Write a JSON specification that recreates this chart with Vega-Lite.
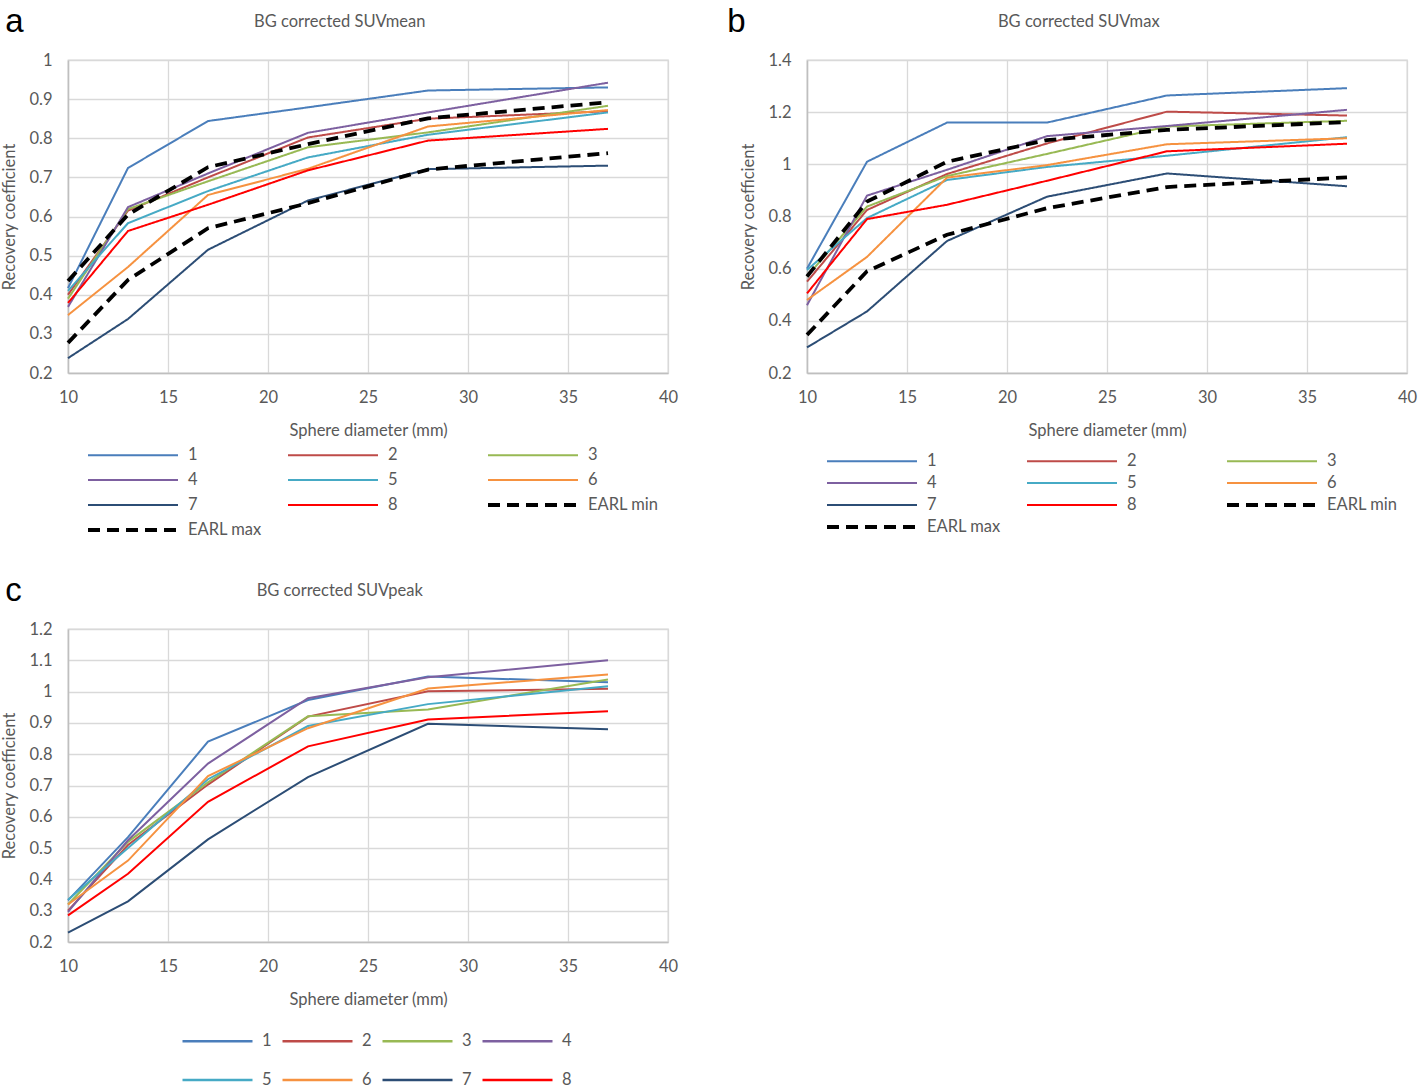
{
  "$schema": "https://vega.github.io/schema/vega-lite/v6.json",
  "background": "white",
  "padding": {"left": 1, "top": 5, "right": 0, "bottom": 0},
  "config": {
    "font": "Lato",
    "view": {"stroke": "#D9D9D9", "strokeWidth": 1.3},
    "axis": {
      "gridColor": "#D9D9D9", "gridWidth": 1.3, "domainColor": "#BFBFBF", "domainWidth": 1.5,
      "ticks": false, "labelFontSize": 16.5, "labelColor": "#595959", "titleFontSize": 16.5,
      "titleColor": "#595959", "titleFontWeight": "normal", "labelFont": "Lato", "titleFont": "Lato"
    },
    "axisX": {"labelPadding": 16, "titlePadding": 17, "labelFlush": false},
    "axisY": {"labelPadding": 16, "titlePadding": 11},
    "title": {"font": "Lato", "fontWeight": "normal"},
    "line": {"strokeCap": "butt", "strokeJoin": "miter"}
  },
  "datasets": {
    "a": [
      {"s": "1", "d": 10, "rc": 0.417}, {"s": "1", "d": 13, "rc": 0.724}, {"s": "1", "d": 17, "rc": 0.844}, {"s": "1", "d": 22, "rc": 0.879}, {"s": "1", "d": 28, "rc": 0.922}, {"s": "1", "d": 37, "rc": 0.93},
      {"s": "2", "d": 10, "rc": 0.40}, {"s": "2", "d": 13, "rc": 0.615}, {"s": "2", "d": 17, "rc": 0.70}, {"s": "2", "d": 22, "rc": 0.802}, {"s": "2", "d": 28, "rc": 0.85}, {"s": "2", "d": 37, "rc": 0.869},
      {"s": "3", "d": 10, "rc": 0.39}, {"s": "3", "d": 13, "rc": 0.619}, {"s": "3", "d": 17, "rc": 0.69}, {"s": "3", "d": 22, "rc": 0.777}, {"s": "3", "d": 28, "rc": 0.815}, {"s": "3", "d": 37, "rc": 0.883},
      {"s": "4", "d": 10, "rc": 0.369}, {"s": "4", "d": 13, "rc": 0.624}, {"s": "4", "d": 17, "rc": 0.71}, {"s": "4", "d": 22, "rc": 0.814}, {"s": "4", "d": 28, "rc": 0.866}, {"s": "4", "d": 37, "rc": 0.942},
      {"s": "5", "d": 10, "rc": 0.41}, {"s": "5", "d": 13, "rc": 0.583}, {"s": "5", "d": 17, "rc": 0.665}, {"s": "5", "d": 22, "rc": 0.751}, {"s": "5", "d": 28, "rc": 0.809}, {"s": "5", "d": 37, "rc": 0.866},
      {"s": "6", "d": 10, "rc": 0.348}, {"s": "6", "d": 13, "rc": 0.471}, {"s": "6", "d": 17, "rc": 0.655}, {"s": "6", "d": 22, "rc": 0.722}, {"s": "6", "d": 28, "rc": 0.83}, {"s": "6", "d": 37, "rc": 0.872},
      {"s": "7", "d": 10, "rc": 0.238}, {"s": "7", "d": 13, "rc": 0.338}, {"s": "7", "d": 17, "rc": 0.515}, {"s": "7", "d": 22, "rc": 0.641}, {"s": "7", "d": 28, "rc": 0.721}, {"s": "7", "d": 37, "rc": 0.73},
      {"s": "8", "d": 10, "rc": 0.379}, {"s": "8", "d": 13, "rc": 0.563}, {"s": "8", "d": 17, "rc": 0.63}, {"s": "8", "d": 22, "rc": 0.718}, {"s": "8", "d": 28, "rc": 0.794}, {"s": "8", "d": 37, "rc": 0.824},
      {"s": "EARL min", "d": 10, "rc": 0.277}, {"s": "EARL min", "d": 13, "rc": 0.438}, {"s": "EARL min", "d": 17, "rc": 0.57}, {"s": "EARL min", "d": 22, "rc": 0.634}, {"s": "EARL min", "d": 28, "rc": 0.72}, {"s": "EARL min", "d": 37, "rc": 0.762},
      {"s": "EARL max", "d": 10, "rc": 0.435}, {"s": "EARL max", "d": 13, "rc": 0.605}, {"s": "EARL max", "d": 17, "rc": 0.726}, {"s": "EARL max", "d": 22, "rc": 0.785}, {"s": "EARL max", "d": 28, "rc": 0.851}, {"s": "EARL max", "d": 37, "rc": 0.892}
    ],
    "b": [
      {"s": "1", "d": 10, "rc": 0.60}, {"s": "1", "d": 13, "rc": 1.01}, {"s": "1", "d": 17, "rc": 1.16}, {"s": "1", "d": 22, "rc": 1.16}, {"s": "1", "d": 28, "rc": 1.264}, {"s": "1", "d": 37, "rc": 1.292},
      {"s": "2", "d": 10, "rc": 0.55}, {"s": "2", "d": 13, "rc": 0.825}, {"s": "2", "d": 17, "rc": 0.963}, {"s": "2", "d": 22, "rc": 1.08}, {"s": "2", "d": 28, "rc": 1.202}, {"s": "2", "d": 37, "rc": 1.187},
      {"s": "3", "d": 10, "rc": 0.57}, {"s": "3", "d": 13, "rc": 0.838}, {"s": "3", "d": 17, "rc": 0.955}, {"s": "3", "d": 22, "rc": 1.04}, {"s": "3", "d": 28, "rc": 1.145}, {"s": "3", "d": 37, "rc": 1.167},
      {"s": "4", "d": 10, "rc": 0.46}, {"s": "4", "d": 13, "rc": 0.88}, {"s": "4", "d": 17, "rc": 0.979}, {"s": "4", "d": 22, "rc": 1.108}, {"s": "4", "d": 28, "rc": 1.147}, {"s": "4", "d": 37, "rc": 1.209},
      {"s": "5", "d": 10, "rc": 0.595}, {"s": "5", "d": 13, "rc": 0.794}, {"s": "5", "d": 17, "rc": 0.94}, {"s": "5", "d": 22, "rc": 0.99}, {"s": "5", "d": 28, "rc": 1.033}, {"s": "5", "d": 37, "rc": 1.104},
      {"s": "6", "d": 10, "rc": 0.48}, {"s": "6", "d": 13, "rc": 0.645}, {"s": "6", "d": 17, "rc": 0.949}, {"s": "6", "d": 22, "rc": 0.997}, {"s": "6", "d": 28, "rc": 1.077}, {"s": "6", "d": 37, "rc": 1.10},
      {"s": "7", "d": 10, "rc": 0.298}, {"s": "7", "d": 13, "rc": 0.436}, {"s": "7", "d": 17, "rc": 0.706}, {"s": "7", "d": 22, "rc": 0.876}, {"s": "7", "d": 28, "rc": 0.965}, {"s": "7", "d": 37, "rc": 0.916},
      {"s": "8", "d": 10, "rc": 0.505}, {"s": "8", "d": 13, "rc": 0.79}, {"s": "8", "d": 17, "rc": 0.845}, {"s": "8", "d": 22, "rc": 0.937}, {"s": "8", "d": 28, "rc": 1.05}, {"s": "8", "d": 37, "rc": 1.079},
      {"s": "EARL min", "d": 10, "rc": 0.346}, {"s": "EARL min", "d": 13, "rc": 0.59}, {"s": "EARL min", "d": 17, "rc": 0.73}, {"s": "EARL min", "d": 22, "rc": 0.832}, {"s": "EARL min", "d": 28, "rc": 0.913}, {"s": "EARL min", "d": 37, "rc": 0.95},
      {"s": "EARL max", "d": 10, "rc": 0.57}, {"s": "EARL max", "d": 13, "rc": 0.857}, {"s": "EARL max", "d": 17, "rc": 1.01}, {"s": "EARL max", "d": 22, "rc": 1.093}, {"s": "EARL max", "d": 28, "rc": 1.132}, {"s": "EARL max", "d": 37, "rc": 1.162}
    ],
    "c": [
      {"s": "1", "d": 10, "rc": 0.333}, {"s": "1", "d": 13, "rc": 0.535}, {"s": "1", "d": 17, "rc": 0.84}, {"s": "1", "d": 22, "rc": 0.973}, {"s": "1", "d": 28, "rc": 1.048}, {"s": "1", "d": 37, "rc": 1.03},
      {"s": "2", "d": 10, "rc": 0.30}, {"s": "2", "d": 13, "rc": 0.51}, {"s": "2", "d": 17, "rc": 0.703}, {"s": "2", "d": 22, "rc": 0.92}, {"s": "2", "d": 28, "rc": 1.001}, {"s": "2", "d": 37, "rc": 1.009},
      {"s": "3", "d": 10, "rc": 0.32}, {"s": "3", "d": 13, "rc": 0.52}, {"s": "3", "d": 17, "rc": 0.71}, {"s": "3", "d": 22, "rc": 0.921}, {"s": "3", "d": 28, "rc": 0.943}, {"s": "3", "d": 37, "rc": 1.039},
      {"s": "4", "d": 10, "rc": 0.296}, {"s": "4", "d": 13, "rc": 0.525}, {"s": "4", "d": 17, "rc": 0.77}, {"s": "4", "d": 22, "rc": 0.979}, {"s": "4", "d": 28, "rc": 1.046}, {"s": "4", "d": 37, "rc": 1.10},
      {"s": "5", "d": 10, "rc": 0.335}, {"s": "5", "d": 13, "rc": 0.50}, {"s": "5", "d": 17, "rc": 0.72}, {"s": "5", "d": 22, "rc": 0.89}, {"s": "5", "d": 28, "rc": 0.96}, {"s": "5", "d": 37, "rc": 1.017},
      {"s": "6", "d": 10, "rc": 0.32}, {"s": "6", "d": 13, "rc": 0.46}, {"s": "6", "d": 17, "rc": 0.73}, {"s": "6", "d": 22, "rc": 0.883}, {"s": "6", "d": 28, "rc": 1.01}, {"s": "6", "d": 37, "rc": 1.055},
      {"s": "7", "d": 10, "rc": 0.23}, {"s": "7", "d": 13, "rc": 0.33}, {"s": "7", "d": 17, "rc": 0.528}, {"s": "7", "d": 22, "rc": 0.727}, {"s": "7", "d": 28, "rc": 0.897}, {"s": "7", "d": 37, "rc": 0.88},
      {"s": "8", "d": 10, "rc": 0.285}, {"s": "8", "d": 13, "rc": 0.418}, {"s": "8", "d": 17, "rc": 0.648}, {"s": "8", "d": 22, "rc": 0.825}, {"s": "8", "d": 28, "rc": 0.911}, {"s": "8", "d": 37, "rc": 0.937}
    ]
  },
  "resolve": {"scale": {"color": "independent", "strokeDash": "independent", "strokeWidth": "independent"}, "legend": {"color": "independent", "strokeDash": "independent", "strokeWidth": "independent"}},
  "spacing": 34,
  "vconcat": [
    {
      "resolve": {"scale": {"color": "independent", "strokeDash": "independent", "strokeWidth": "independent"}, "legend": {"color": "independent", "strokeDash": "independent", "strokeWidth": "independent"}},
      "spacing": 48,
      "hconcat": [
        {
          "title": {"text": "a", "anchor": "start", "frame": "bounds", "font": "Liberation Sans", "fontSize": 33, "color": "#000000", "offset": -26, "dx": 4},
          "resolve": {"scale": {"color": "independent", "strokeDash": "independent", "strokeWidth": "independent"}, "legend": {"color": "independent", "strokeDash": "independent", "strokeWidth": "independent"}},
          "vconcat": [
            {
              "width": 600, "height": 313,
              "title": {"text": "BG corrected SUVmean", "fontSize": 16.5, "color": "#595959", "anchor": "middle", "frame": "bounds", "offset": 22},
              "data": {"name": "a"},
              "mark": {"type": "line"},
              "encoding": {
                "x": {"field": "d", "type": "quantitative", "scale": {"domain": [10, 40], "nice": false, "zero": false}, "axis": {"values": [10, 15, 20, 25, 30, 35, 40], "title": "Sphere diameter (mm)"}},
                "y": {"field": "rc", "type": "quantitative", "scale": {"domain": [0.2, 1], "nice": false, "zero": false}, "axis": {"values": [0.2, 0.3, 0.4, 0.5, 0.6, 0.7, 0.8, 0.9, 1], "format": "~g", "title": "Recovery coefficient"}},
                "color": {"field": "s", "type": "nominal", "scale": {"domain": ["1", "2", "3", "4", "5", "6", "7", "8", "EARL min", "EARL max"], "range": ["#4A7EBB", "#BE4B48", "#98B954", "#7D60A0", "#46AAC5", "#F69240", "#2C4D75", "#FF0000", "#000000", "#000000"]},
                  "legend": {"title": null, "orient": "none", "legendX": 18, "legendY": 387, "columns": 3, "direction": "horizontal", "gridAlign": "all", "symbolType": "stroke", "symbolSize": 8100, "clipHeight": 16, "rowPadding": 8, "columnPadding": 24, "labelOffset": 8, "labelFontSize": 16.5, "labelColor": "#595959", "labelFont": "Lato"}},
                "strokeDash": {"field": "s", "type": "nominal", "scale": {"domain": ["1", "2", "3", "4", "5", "6", "7", "8", "EARL min", "EARL max"], "range": [[1, 0], [1, 0], [1, 0], [1, 0], [1, 0], [1, 0], [1, 0], [1, 0], [12, 7], [12, 7]]},
                  "legend": {"title": null, "orient": "none", "legendX": 18, "legendY": 387, "columns": 3, "direction": "horizontal", "gridAlign": "all", "symbolType": "stroke", "symbolSize": 8100, "clipHeight": 16, "rowPadding": 8, "columnPadding": 24, "labelOffset": 8, "labelFontSize": 16.5, "labelColor": "#595959", "labelFont": "Lato"}},
                "strokeWidth": {"field": "s", "type": "nominal", "scale": {"type": "ordinal", "domain": ["1", "2", "3", "4", "5", "6", "7", "8", "EARL min", "EARL max"], "range": [2, 2, 2, 2, 2, 2, 2, 2, 3.8, 3.8]},
                  "legend": {"title": null, "orient": "none", "legendX": 18, "legendY": 387, "columns": 3, "direction": "horizontal", "gridAlign": "all", "symbolType": "stroke", "symbolSize": 8100, "clipHeight": 16, "rowPadding": 8, "columnPadding": 24, "labelOffset": 8, "labelFontSize": 16.5, "labelColor": "#595959", "labelFont": "Lato"}}
              }
            }
          ]
        },
        {
          "title": {"text": "b", "anchor": "start", "frame": "bounds", "font": "Liberation Sans", "fontSize": 33, "color": "#000000", "offset": -26, "dx": -13},
          "resolve": {"scale": {"color": "independent", "strokeDash": "independent", "strokeWidth": "independent"}, "legend": {"color": "independent", "strokeDash": "independent", "strokeWidth": "independent"}},
          "vconcat": [
            {
              "width": 600, "height": 313,
              "title": {"text": "BG corrected SUVmax", "fontSize": 16.5, "color": "#595959", "anchor": "middle", "frame": "bounds", "offset": 22},
              "data": {"name": "b"},
              "mark": {"type": "line"},
              "encoding": {
                "x": {"field": "d", "type": "quantitative", "scale": {"domain": [10, 40], "nice": false, "zero": false}, "axis": {"values": [10, 15, 20, 25, 30, 35, 40], "title": "Sphere diameter (mm)"}},
                "y": {"field": "rc", "type": "quantitative", "scale": {"domain": [0.2, 1.4], "nice": false, "zero": false}, "axis": {"values": [0.2, 0.4, 0.6, 0.8, 1, 1.2, 1.4], "format": "~g", "title": "Recovery coefficient"}},
                "color": {"field": "s", "type": "nominal", "scale": {"domain": ["1", "2", "3", "4", "5", "6", "7", "8", "EARL min", "EARL max"], "range": ["#4A7EBB", "#BE4B48", "#98B954", "#7D60A0", "#46AAC5", "#F69240", "#2C4D75", "#FF0000", "#000000", "#000000"]},
                  "legend": {"title": null, "orient": "none", "legendX": 18, "legendY": 393, "columns": 3, "direction": "horizontal", "gridAlign": "all", "symbolType": "stroke", "symbolSize": 8100, "clipHeight": 16, "rowPadding": 5, "columnPadding": 24, "labelOffset": 8, "labelFontSize": 16.5, "labelColor": "#595959", "labelFont": "Lato"}},
                "strokeDash": {"field": "s", "type": "nominal", "scale": {"domain": ["1", "2", "3", "4", "5", "6", "7", "8", "EARL min", "EARL max"], "range": [[1, 0], [1, 0], [1, 0], [1, 0], [1, 0], [1, 0], [1, 0], [1, 0], [12, 7], [12, 7]]},
                  "legend": {"title": null, "orient": "none", "legendX": 18, "legendY": 393, "columns": 3, "direction": "horizontal", "gridAlign": "all", "symbolType": "stroke", "symbolSize": 8100, "clipHeight": 16, "rowPadding": 5, "columnPadding": 24, "labelOffset": 8, "labelFontSize": 16.5, "labelColor": "#595959", "labelFont": "Lato"}},
                "strokeWidth": {"field": "s", "type": "nominal", "scale": {"type": "ordinal", "domain": ["1", "2", "3", "4", "5", "6", "7", "8", "EARL min", "EARL max"], "range": [2, 2, 2, 2, 2, 2, 2, 2, 3.8, 3.8]},
                  "legend": {"title": null, "orient": "none", "legendX": 18, "legendY": 393, "columns": 3, "direction": "horizontal", "gridAlign": "all", "symbolType": "stroke", "symbolSize": 8100, "clipHeight": 16, "rowPadding": 5, "columnPadding": 24, "labelOffset": 8, "labelFontSize": 16.5, "labelColor": "#595959", "labelFont": "Lato"}}
              }
            }
          ]
        }
      ]
    },
    {
      "title": {"text": "c", "anchor": "start", "frame": "bounds", "font": "Liberation Sans", "fontSize": 33, "color": "#000000", "offset": -26, "dx": 4},
      "resolve": {"scale": {"color": "independent", "strokeDash": "independent", "strokeWidth": "independent"}, "legend": {"color": "independent", "strokeDash": "independent", "strokeWidth": "independent"}},
      "vconcat": [
        {
          "width": 600, "height": 313,
          "title": {"text": "BG corrected SUVpeak", "fontSize": 16.5, "color": "#595959", "anchor": "middle", "frame": "bounds", "offset": 22},
          "data": {"name": "c"},
          "mark": {"type": "line"},
          "encoding": {
            "x": {"field": "d", "type": "quantitative", "scale": {"domain": [10, 40], "nice": false, "zero": false}, "axis": {"values": [10, 15, 20, 25, 30, 35, 40], "title": "Sphere diameter (mm)"}},
            "y": {"field": "rc", "type": "quantitative", "scale": {"domain": [0.2, 1.2], "nice": false, "zero": false}, "axis": {"values": [0.2, 0.3, 0.4, 0.5, 0.6, 0.7, 0.8, 0.9, 1, 1.1, 1.2], "format": "~g", "title": "Recovery coefficient"}},
            "color": {"field": "s", "type": "nominal", "scale": {"domain": ["1", "2", "3", "4", "5", "6", "7", "8"], "range": ["#4A7EBB", "#BE4B48", "#98B954", "#7D60A0", "#46AAC5", "#F69240", "#2C4D75", "#FF0000"]},
              "legend": {"title": null, "orient": "none", "legendX": 113, "legendY": 404, "columns": 4, "direction": "horizontal", "gridAlign": "all", "symbolType": "stroke", "symbolSize": 4900, "symbolStrokeWidth": 2.5, "clipHeight": 16, "rowPadding": 22, "columnPadding": 9, "labelOffset": 8, "labelFontSize": 16.5, "labelColor": "#595959", "labelFont": "Lato"}}
          }
        }
      ]
    }
  ]
}
